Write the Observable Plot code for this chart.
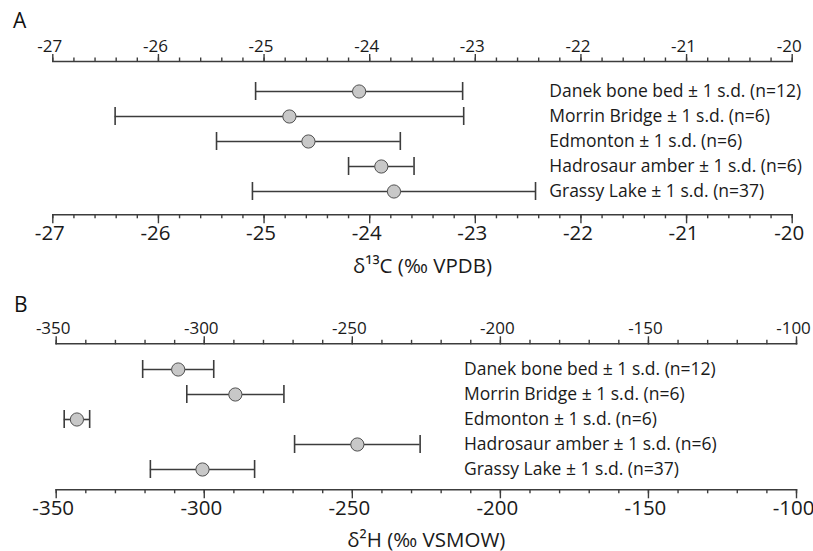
<!DOCTYPE html>
<html><head><meta charset="utf-8">
<script src="https://cdn.jsdelivr.net/npm/d3@7"></script>
<script src="https://cdn.jsdelivr.net/npm/@observablehq/plot@0.6"></script>
<style>
body{margin:0;background:#fff;font-family:"Open Sans",sans-serif;}
#wrap{position:relative;width:813px;height:551px;overflow:hidden;background:#fff}
.panel{position:absolute;left:0}
.letter{position:absolute;font-size:21px;color:#111;line-height:1;font-family:"Open Sans",sans-serif}
</style></head><body>
<div id="wrap">
  <div class="panel" id="pa" style="top:0"></div>
  <div class="panel" id="pb" style="top:280px"></div>
  <div class="letter" style="left:13px;top:10px">A</div>
  <div class="letter" style="left:14px;top:294px">B</div>
</div>
<script>
const sites = ["Danek bone bed", "Morrin Bridge", "Edmonton", "Hadrosaur amber", "Grassy Lake"];
const nSamples = [12, 6, 6, 6, 37];
const carbonMean = [-24.10, -24.76, -24.58, -23.89, -23.77];
const carbonSD = [0.98, 1.65, 0.87, 0.31, 1.34];
const hydrogenMean = [-308.8, -289.5, -343.0, -248.3, -300.6];
const hydrogenSD = [12.0, 16.4, 4.3, 21.2, 17.6];
const carbonTicks = [-27, -26, -25, -24, -23, -22, -21, -20];
const carbonMinor = d3.range(-27, -19.99, 0.2);
const hydrogenTicks = [-350, -300, -250, -200, -150, -100];
const hydrogenMinor = d3.range(-350, -99, 10);

const ink = "#3c3c3c";

function panel({mean, sd, ticks, minor, domain, labelX, title, height, margins, yRange, labelOffset}) {
  const rows = sites.map((s, i) => ({
    site: s, mean: mean[i], lo: mean[i] - sd[i], hi: mean[i] + sd[i],
    text: `${s} ± 1 s.d. (n=${nSamples[i]})`
  }));
  const fmt = d => String(d);
  return Plot.plot({
    width: 813, height, ...margins,
    style: {fontFamily: '"Open Sans", sans-serif', fontSize: "17px", color: "#1a1a1a", background: "#fff", overflow: "visible"},
    x: {domain, label: null},
    y: {type: "band", domain: sites, range: yRange, paddingInner: 0.3, paddingOuter: 0.15, axis: null},
    marks: [
      Plot.frame({anchor: "top", stroke: ink, strokeWidth: 1.6}),
      Plot.frame({anchor: "bottom", stroke: ink, strokeWidth: 1.6}),
      // minor ticks
      Plot.axisX({anchor: "top", ticks: minor, tickSize: 4.5, fill: "none", label: null, stroke: ink, strokeWidth: 1.4}),
      Plot.axisX({anchor: "bottom", ticks: minor, tickSize: 4, fill: "none", label: null, stroke: ink, strokeWidth: 1.4}),
      // major ticks
      Plot.axisX({anchor: "top", ticks, tickSize: 8, fill: "none", label: null, stroke: ink, strokeWidth: 1.4}),
      Plot.axisX({anchor: "bottom", ticks, tickSize: 9, fill: "none", label: null, stroke: ink, strokeWidth: 1.4}),
      // tick labels
      Plot.axisX({anchor: "top", ticks, tickSize: 0, tickFormat: fmt, tickPadding: 10, dx: -3, label: null}),
      Plot.axisX({anchor: "bottom", ticks, tickSize: 0, tickFormat: fmt, tickPadding: 11, dx: -3,
        label: title, labelAnchor: "center", labelArrow: "none", labelOffset, fontSize: 20.5}),
      Plot.ruleY(rows, {y: "site", x1: "lo", x2: "hi", stroke: ink, strokeWidth: 1.6}),
      Plot.tickX(rows, {y: "site", x: "lo", stroke: ink, strokeWidth: 1.6}),
      Plot.tickX(rows, {y: "site", x: "hi", stroke: ink, strokeWidth: 1.6}),
      Plot.dot(rows, {y: "site", x: "mean", r: 6.6, fill: "#c8c8c8", stroke: "#505050", strokeWidth: 1}),
      Plot.text(rows, {y: "site", x: () => labelX, text: "text", textAnchor: "start", fontSize: 17.5, fill: "#1a1a1a"})
    ]
  });
}

document.getElementById("pa").append(panel({
  mean: carbonMean, sd: carbonSD, ticks: carbonTicks, minor: carbonMinor,
  domain: [-27, -20], labelX: -22.3, title: "δ¹³C (‰ VPDB)", height: 280,
  margins: {marginLeft: 52.3, marginRight: 21.3, marginTop: 61, marginBottom: 65.7},
  yRange: [76.4, 205.6], labelOffset: 57.7
}));
document.getElementById("pb").append(panel({
  mean: hydrogenMean, sd: hydrogenSD, ticks: hydrogenTicks, minor: hydrogenMinor,
  domain: [-350, -100], labelX: -212.3, title: "δ²H (‰ VSMOW)", height: 271,
  margins: {marginLeft: 55.7, marginRight: 17, marginTop: 63.3, marginBottom: 61.7},
  yRange: [74.45, 202.85], labelOffset: 56.7
}));
</script>
</body></html>
